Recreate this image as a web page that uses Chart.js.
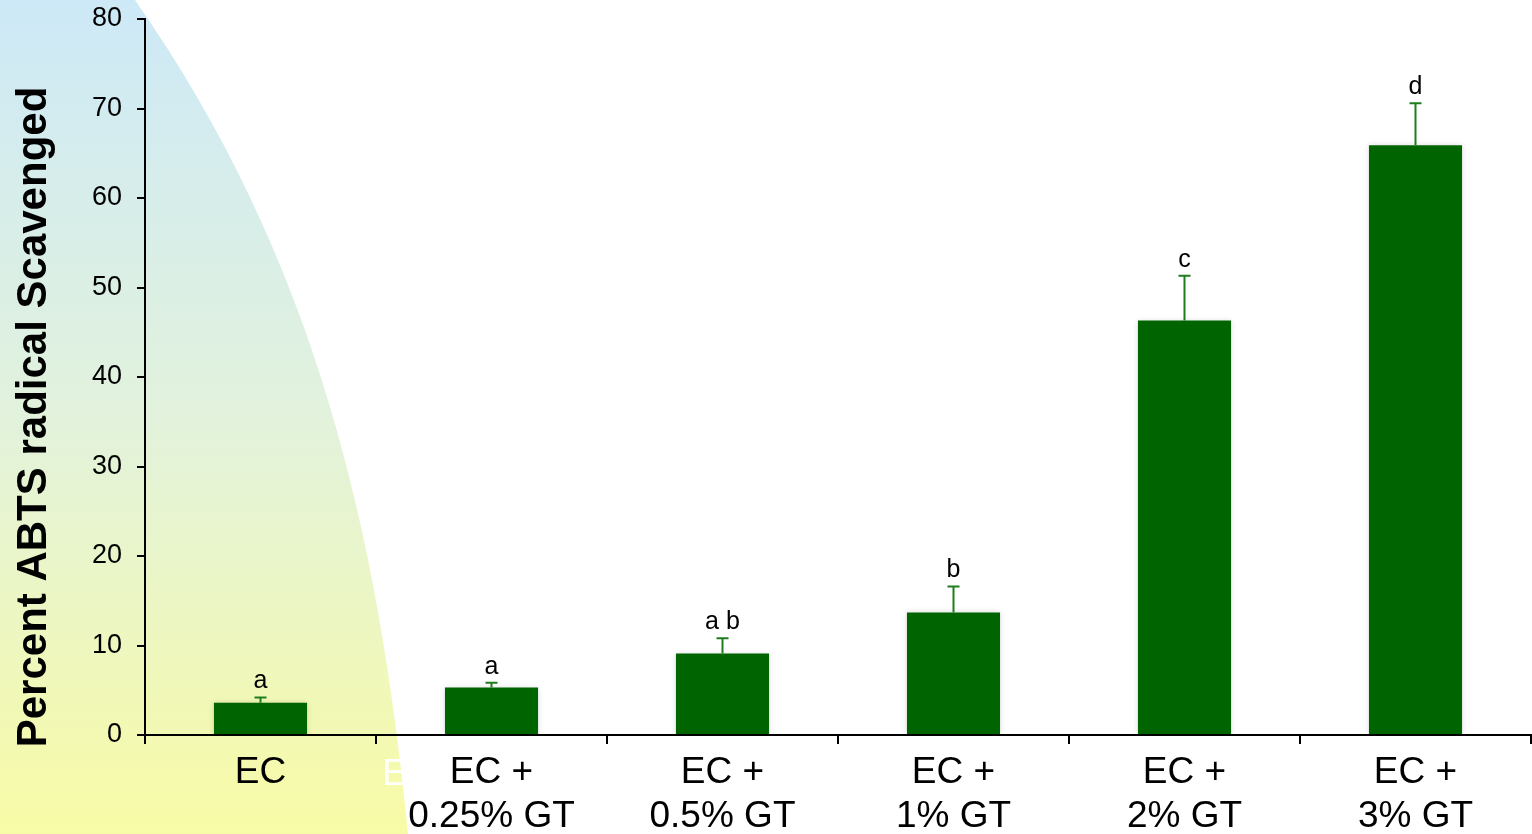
<!DOCTYPE html>
<html>
<head>
<meta charset="utf-8">
<title>ABTS radical scavenging</title>
<script src="https://cdn.jsdelivr.net/npm/chart.js@4.4.1/dist/chart.umd.min.js"></script>
<style>
    html, body { margin: 0; padding: 0; background: #fff; }
    #wrap { position: relative; width: 1532px; height: 834px; }
</style>
</head>
<body>
<div id="wrap"><canvas id="abtsChart"></canvas></div>
<script>
// Dados do ensaio ABTS
const categories = [
    ['EC'],
    ['EC +', '0.25% GT'],
    ['EC +', '0.5% GT'],
    ['EC +', '1% GT'],
    ['EC +', '2% GT'],
    ['EC +', '3% GT']
];
const scavenged = [3.6, 5.3, 9.1, 13.7, 46.3, 65.9];
const errors = [0.6, 0.55, 1.7, 2.9, 5.0, 4.7];
const letters = ['a', 'a', 'a b', 'b', 'c', 'd'];
const yTicks = [0, 10, 20, 30, 40, 50, 60, 70, 80];

const FONT = "'Liberation Sans', Arial, sans-serif";
const GREEN = '#006400';
const ERR_GREEN = '#1e7d1e';

// Fundo em degradê (azul -> amarelo) no canto esquerdo
const backdrop = {
    id: 'backdrop',
    beforeDraw(chart) {
        const ctx = chart.ctx;
        const h = chart.height;
        ctx.save();
        ctx.fillStyle = '#ffffff';
        ctx.fillRect(0, 0, chart.width, h);
        const grad = ctx.createLinearGradient(0, 0, 0, h);
        grad.addColorStop(0, '#cde9f7');
        grad.addColorStop(0.5, '#e2f2dc');
        grad.addColorStop(1, '#f8fba6');
        ctx.beginPath();
        ctx.moveTo(0, 0);
        ctx.lineTo(135, 0);
        ctx.bezierCurveTo(317, 260, 378, 534, 408, h);
        ctx.lineTo(0, h);
        ctx.closePath();
        ctx.fillStyle = grad;
        ctx.fill();
        // rótulo branco que fica escondido atrás
        ctx.fillStyle = '#ffffff';
        ctx.font = '37px ' + FONT;
        ctx.textAlign = 'left';
        ctx.textBaseline = 'alphabetic';
        ctx.fillText('EC +', 382, 785);
        ctx.restore();
    }
};

// Sombra leve nas barras
const barShadow = {
    id: 'barShadow',
    beforeDatasetDraw(chart) {
        const ctx = chart.ctx;
        ctx.save();
        ctx.shadowColor = 'rgba(0, 0, 0, 0.14)';
        ctx.shadowBlur = 6;
    },
    afterDatasetDraw(chart) {
        chart.ctx.restore();
    }
};

// Barras de erro (só para cima) e letras de significância
const errorBars = {
    id: 'errorBars',
    afterDatasetsDraw(chart) {
        const ctx = chart.ctx;
        const y = chart.scales.y;
        const meta = chart.getDatasetMeta(0);
        ctx.save();
        meta.data.forEach((bar, i) => {
            const top = y.getPixelForValue(scavenged[i]);
            const cap = y.getPixelForValue(scavenged[i] + errors[i]);
            ctx.strokeStyle = ERR_GREEN;
            ctx.lineWidth = 2;
            ctx.beginPath();
            ctx.moveTo(bar.x, top);
            ctx.lineTo(bar.x, cap);
            ctx.moveTo(bar.x - 6, cap);
            ctx.lineTo(bar.x + 6, cap);
            ctx.stroke();

            ctx.fillStyle = '#000';
            ctx.font = '25px ' + FONT;
            ctx.textAlign = 'center';
            ctx.textBaseline = 'alphabetic';
            ctx.fillText(letters[i], bar.x, cap - 9);
        });
        ctx.restore();
    }
};

// Título do eixo Y
const yTitle = {
    id: 'yTitle',
    afterDraw(chart) {
        const ctx = chart.ctx;
        ctx.save();
        ctx.translate(46, 417);
        ctx.rotate(-Math.PI / 2);
        ctx.fillStyle = '#000';
        ctx.font = 'bold 42px ' + FONT;
        ctx.textAlign = 'center';
        ctx.textBaseline = 'alphabetic';
        ctx.fillText('Percent ABTS radical Scavenged', 0, 0);
        ctx.restore();
    }
};

const ctx = document.getElementById('abtsChart').getContext('2d');
window.abtsChart = new Chart(ctx, {
    type: 'bar',
    data: {
        labels: categories,
        datasets: [{
            data: scavenged,
            backgroundColor: GREEN,
            borderWidth: 0,
            categoryPercentage: 1.0,
            barPercentage: 0.403
        }]
    },
    options: {
        responsive: true,
        maintainAspectRatio: false,
        animation: false,
        layout: { padding: { top: 19, right: 1, left: 0, bottom: 0 } },
        plugins: {
            legend: { display: false },
            tooltip: { enabled: false }
        },
        scales: {
            x: {
                grid: {
                    offset: true,
                    drawOnChartArea: false,
                    color: '#000',
                    lineWidth: 2,
                    tickLength: 9
                },
                border: { color: '#000', width: 2 },
                ticks: {
                    color: '#000',
                    autoSkip: false,
                    maxRotation: 0,
                    padding: 7,
                    font: { family: FONT, size: 37, lineHeight: 1.18 }
                },
                afterFit(scale) {
                    scale.height = 99;
                    scale.paddingLeft = 0;
                    scale.paddingRight = 0;
                }
            },
            y: {
                min: 0,
                max: 80,
                afterBuildTicks(scale) {
                    scale.ticks = yTicks.map(v => ({ value: v }));
                },
                grid: {
                    drawOnChartArea: false,
                    color: '#000',
                    lineWidth: 2,
                    tickLength: 8
                },
                border: { color: '#000', width: 2 },
                ticks: {
                    color: '#000',
                    padding: 15,
                    font: { family: FONT, size: 27 }
                },
                afterFit(scale) {
                    scale.width = 145;
                    scale.paddingTop = 0;
                    scale.paddingBottom = 0;
                }
            }
        }
    },
    plugins: [backdrop, barShadow, errorBars, yTitle]
});
</script>
</body>
</html>
